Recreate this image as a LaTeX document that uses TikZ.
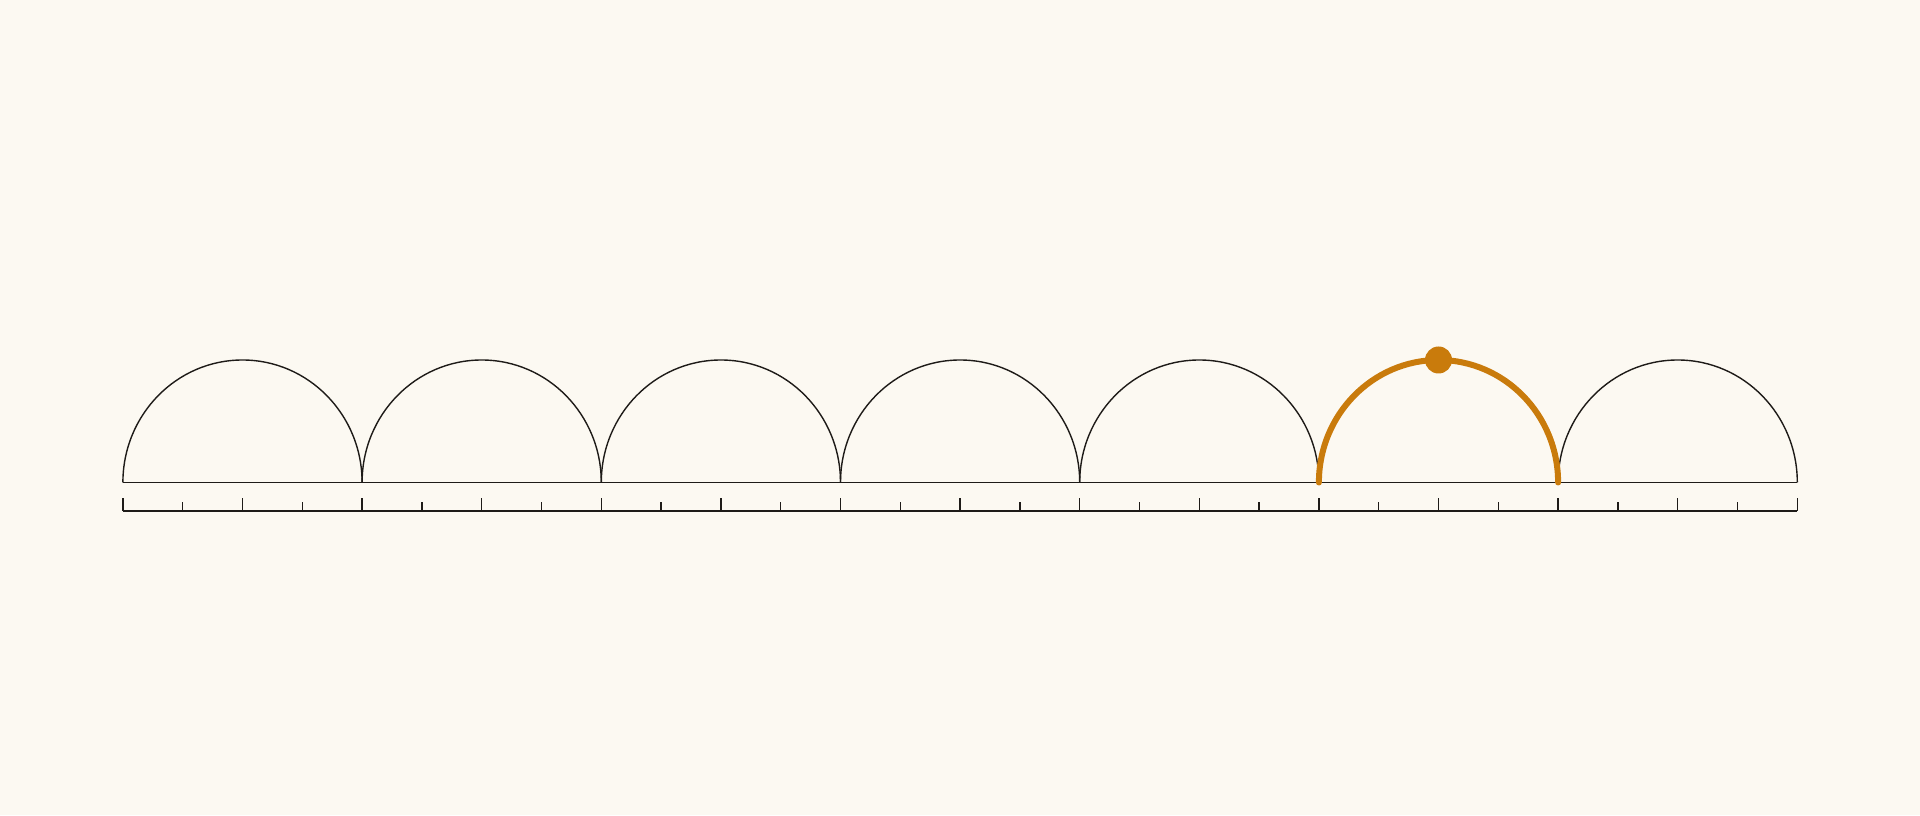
\documentclass[tikz,border=0pt]{standalone}
\usetikzlibrary{calc}
\definecolor{bgcol}{HTML}{FCF9F2}
\definecolor{ink}{HTML}{1E1B18}
\definecolor{hilite}{HTML}{C97B0C}
\begin{document}
\begin{tikzpicture}[x=1pt,y=1pt,
  thin line/.style={draw=ink,line width=1.4pt},
  hump/.style={thin line},
  hot hump/.style={draw=hilite,line width=6pt,line cap=round},
  major tick/.style={thin line},
  minor tick/.style={thin line},
  marker/.style={circle,fill=hilite,inner sep=0pt,minimum size=27pt}]
\fill[bgcol] (0,0) rectangle (1920,815);
\useasboundingbox (0,0) rectangle (1920,815);
% arc end points on the baseline
\foreach \i in {0,...,7}{
  \coordinate (p\i) at ({122.9+239.2*\i},332.5);
  \coordinate (r\i) at ({122.9+239.2*\i},304);
}
% baseline
\draw[thin line] (p0) -- (p7);
% black humps
\foreach \i in {0,...,6}{
  \draw[hump] (p\i) arc[start angle=180,end angle=0,x radius=119.6,y radius=122.5];
}
% ruler
\draw[thin line] (r0) -- (r7);
\foreach \i in {0,...,6}{
  \draw[major tick] (r\i) -- ++(0,13);
  \draw[minor tick] ($(r\i)+(59.8,0)$) -- ++(0,9);
  \draw[major tick] ($(r\i)+(119.6,0)$) -- ++(0,13);
  \draw[minor tick] ($(r\i)+(179.4,0)$) -- ++(0,9);
}
\draw[major tick] (r7) -- ++(0,13);
% highlighted hump
\draw[hot hump] (p5) arc[start angle=180,end angle=0,x radius=119.6,y radius=122.5];
\node[marker] (dot) at ($(p5)+(119.6,122.5)$) {};
\end{tikzpicture}
\end{document}
